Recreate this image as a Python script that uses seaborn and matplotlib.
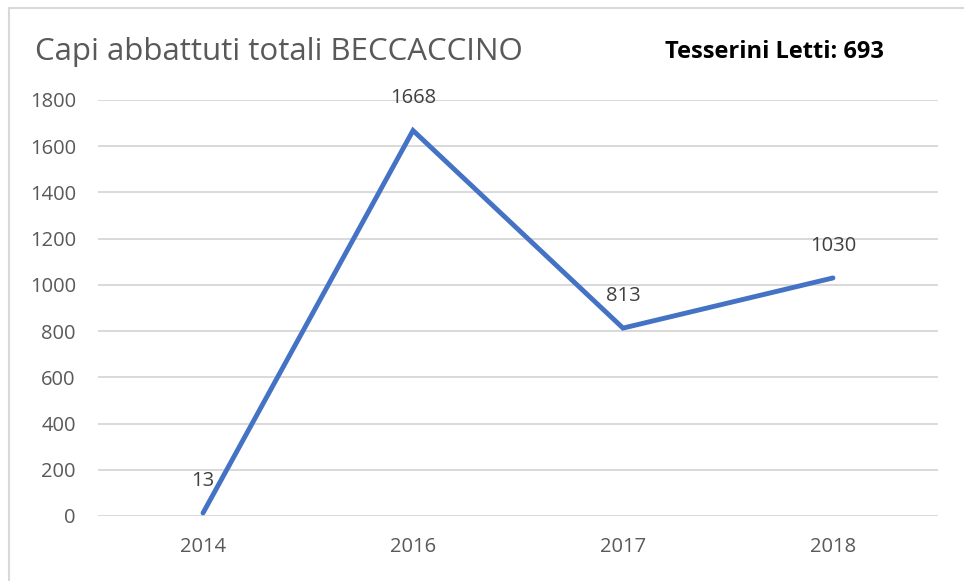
import matplotlib
matplotlib.use("Agg")
import matplotlib.pyplot as plt
import seaborn as sns
import pandas as pd
from matplotlib.patches import Rectangle

# data
anni = ["2014", "2016", "2017", "2018"]
capi = [13, 1668, 813, 1030]
tesserini = 693

df = pd.DataFrame({"Anno": anni, "Capi": capi})

sns.set_theme(style="white")
plt.rcParams["font.family"] = ["Open Sans", "DejaVu Sans"]

fig = plt.figure(figsize=(9.64, 5.81), dpi=100)
ax = fig.add_axes([0.1017, 0.1119, 0.8713, 0.716])

sns.lineplot(data=df, x="Anno", y="Capi", color="#4472C4", linewidth=3.5,
             sort=False, ax=ax, solid_capstyle="round", solid_joinstyle="miter")

# data labels above each point
for i, v in enumerate(capi):
    ax.annotate(str(v), (i, v), xytext=(0, 32), textcoords="offset pixels",
                ha="center", va="center", fontsize=14.5, color="#404040")

ax.set_xlim(-0.5, len(anni) - 0.5)
ax.set_ylim(0, 1800)
ax.set_yticks(range(0, 1801, 200))
ax.yaxis.grid(True, color="#D9D9D9", linewidth=1.4)
ax.set_axisbelow(True)
ax.set_xlabel("")
ax.set_ylabel("")
ax.tick_params(axis="both", length=0, labelsize=14.5, labelcolor="#595959")
ax.tick_params(axis="y", pad=16)
ax.tick_params(axis="x", pad=15)
for s in ax.spines.values():
    s.set_visible(False)

fig.text(35 / 964, 1 - 52 / 581, "Capi abbattuti totali BECCACCINO", fontsize=22.5,
         color="#595959", ha="left", va="center")
fig.text(774 / 964, 1 - 52 / 581, f"Tesserini Letti: {tesserini}", fontsize=17,
         fontweight="bold", color="black", ha="center", va="center")

# chart border (only top and left edges are visible in the reference)
fig.patches.append(Rectangle((9 / 964, -0.1), 1.2, 1.1 - 8 / 581, transform=fig.transFigure,
                             fill=False, edgecolor="#D9D9D9", linewidth=1.5))

fig.savefig("out.png", dpi=100)
